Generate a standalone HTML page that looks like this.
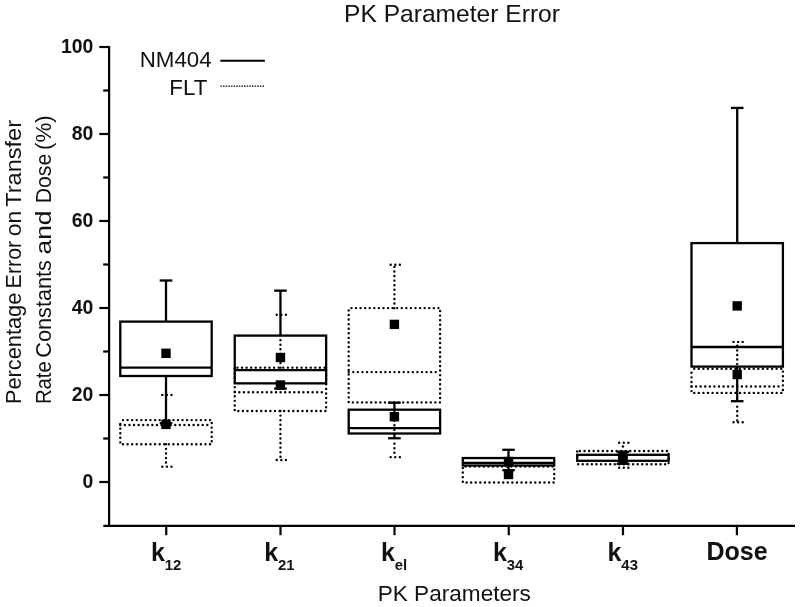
<!DOCTYPE html>
<html lang="en">
<head>
<meta charset="utf-8">
<title>PK Parameter Error</title>
<style>
html,body{margin:0;padding:0;background:#fff;}
body{width:800px;height:607px;overflow:hidden;}
svg{display:block;will-change:transform;}
text{font-family:"Liberation Sans",Arial,Helvetica,sans-serif;fill:#111;}
.b{font-weight:bold;}
.ax{stroke:#000;stroke-width:2.2;fill:none;}
.nm{stroke:#000;stroke-width:2.3;fill:none;}
.fl{stroke:#000;stroke-width:2.4;fill:none;stroke-dasharray:0.01 4.57;stroke-linecap:round;}
.mk{fill:#000;stroke:none;}
</style>
</head>
<body>
<svg width="800" height="607" viewBox="0 0 800 607">
<rect x="0" y="0" width="800" height="607" fill="#ffffff"/>

<text x="452.0" y="22.4" font-size="24.6" text-anchor="middle">PK Parameter Error</text>
<text x="454.3" y="601.2" font-size="22.6" text-anchor="middle">PK Parameters</text>
<text transform="translate(21.3 402.9) rotate(-90)" font-size="22.4"><tspan x="-1.2" textLength="111.4" lengthAdjust="spacingAndGlyphs">Percentage</tspan> <tspan x="114.5" textLength="47.6" lengthAdjust="spacingAndGlyphs">Error</tspan> <tspan x="166.6" textLength="25.6" lengthAdjust="spacingAndGlyphs">on</tspan> <tspan x="196.1" textLength="86.8" lengthAdjust="spacingAndGlyphs">Transfer</tspan></text>
<text transform="translate(50.7 402.9) rotate(-90)" font-size="22.4"><tspan x="-1.2" textLength="42.9" lengthAdjust="spacingAndGlyphs">Rate</tspan> <tspan x="45.2" textLength="97.7" lengthAdjust="spacingAndGlyphs">Constants</tspan> <tspan x="148.4" textLength="44.0" lengthAdjust="spacingAndGlyphs">and</tspan> <tspan x="199.6" textLength="49.6" lengthAdjust="spacingAndGlyphs">Dose</tspan> <tspan x="252.9" textLength="34.8" lengthAdjust="spacingAndGlyphs">(%)</tspan></text>
<line class="ax" x1="109.1" y1="46.00" x2="109.1" y2="526.9"/>
<line class="ax" x1="103.3" y1="525.8" x2="795" y2="525.8"/>
<line class="ax" x1="99.3" y1="482.00" x2="109.1" y2="482.00"/>
<text class="b" x="93.3" y="487.60" font-size="19.4" text-anchor="end">0</text>
<line class="ax" x1="103.2" y1="438.50" x2="109.1" y2="438.50"/>
<line class="ax" x1="99.3" y1="395.00" x2="109.1" y2="395.00"/>
<text class="b" x="93.3" y="400.60" font-size="19.4" text-anchor="end">20</text>
<line class="ax" x1="103.2" y1="351.50" x2="109.1" y2="351.50"/>
<line class="ax" x1="99.3" y1="308.00" x2="109.1" y2="308.00"/>
<text class="b" x="93.3" y="313.60" font-size="19.4" text-anchor="end">40</text>
<line class="ax" x1="103.2" y1="264.50" x2="109.1" y2="264.50"/>
<line class="ax" x1="99.3" y1="221.00" x2="109.1" y2="221.00"/>
<text class="b" x="93.3" y="226.60" font-size="19.4" text-anchor="end">60</text>
<line class="ax" x1="103.2" y1="177.50" x2="109.1" y2="177.50"/>
<line class="ax" x1="99.3" y1="134.00" x2="109.1" y2="134.00"/>
<text class="b" x="93.3" y="139.60" font-size="19.4" text-anchor="end">80</text>
<line class="ax" x1="103.2" y1="90.50" x2="109.1" y2="90.50"/>
<line class="ax" x1="99.3" y1="47.00" x2="109.1" y2="47.00"/>
<text class="b" x="93.3" y="52.60" font-size="19.4" text-anchor="end">100</text>
<line class="ax" x1="166.25" y1="525.8" x2="166.25" y2="535.2"/>
<text class="b" x="166.15" y="560.6" font-size="25.0" text-anchor="middle">k<tspan font-size="14.9" dy="9.6">12</tspan></text>
<line class="ax" x1="280.5" y1="525.8" x2="280.5" y2="535.2"/>
<text class="b" x="279.40" y="560.6" font-size="25.0" text-anchor="middle">k<tspan font-size="14.9" dy="9.6">21</tspan></text>
<line class="ax" x1="394.5" y1="525.8" x2="394.5" y2="535.2"/>
<text class="b" x="394.10" y="560.6" font-size="25.0" text-anchor="middle">k<tspan font-size="14.9" dy="9.6">el</tspan></text>
<line class="ax" x1="508.75" y1="525.8" x2="508.75" y2="535.2"/>
<text class="b" x="508.15" y="560.6" font-size="25.0" text-anchor="middle">k<tspan font-size="14.9" dy="9.6">34</tspan></text>
<line class="ax" x1="623.0" y1="525.8" x2="623.0" y2="535.2"/>
<text class="b" x="622.70" y="560.6" font-size="25.0" text-anchor="middle">k<tspan font-size="14.9" dy="9.6">43</tspan></text>
<line class="ax" x1="736.9" y1="525.8" x2="736.9" y2="535.2"/>
<text class="b" x="737.00" y="560.4" font-size="25.0" text-anchor="middle">Dose</text>
<text x="211.6" y="67.3" font-size="22.3" text-anchor="end">NM404</text>
<text x="207.3" y="94.5" font-size="22.3" text-anchor="end">FLT</text>
<line x1="220.3" y1="60.8" x2="264.9" y2="60.8" stroke="#000" stroke-width="2.1"/>
<line x1="220.4" y1="86.2" x2="265.1" y2="86.2" stroke="#000" stroke-width="1.3" stroke-dasharray="1.5 1.13"/>
<rect class="fl" stroke-dashoffset="-2.7" x="120.30" y="420.10" width="91.40" height="24.15"/>
<line class="fl" x1="120.30" y1="425.00" x2="211.70" y2="425.00"/>
<line class="fl" x1="162.30" y1="394.90" x2="171.60" y2="394.90"/>
<line class="fl" stroke-dashoffset="0.00" x1="166.00" y1="444.25" x2="166.00" y2="466.65"/>
<line class="fl" x1="162.30" y1="466.65" x2="171.60" y2="466.65"/>
<rect class="fl" stroke-dashoffset="-2.7" x="234.75" y="367.65" width="91.40" height="43.35"/>
<line class="fl" x1="234.75" y1="392.20" x2="326.15" y2="392.20"/>
<line class="fl" stroke-dashoffset="0.00" x1="280.45" y1="367.65" x2="280.45" y2="335.60"/>
<line class="fl" x1="276.75" y1="314.80" x2="286.05" y2="314.80"/>
<line class="fl" stroke-dashoffset="0.00" x1="280.45" y1="411.00" x2="280.45" y2="460.00"/>
<line class="fl" x1="276.75" y1="460.00" x2="286.05" y2="460.00"/>
<rect class="fl" stroke-dashoffset="-2.7" x="348.70" y="308.10" width="91.40" height="94.30"/>
<line class="fl" x1="348.70" y1="372.10" x2="440.10" y2="372.10"/>
<line class="fl" stroke-dashoffset="0.00" x1="394.40" y1="308.10" x2="394.40" y2="264.70"/>
<line class="fl" x1="390.70" y1="264.70" x2="400.00" y2="264.70"/>
<line class="fl" stroke-dashoffset="2.72" x1="394.40" y1="409.70" x2="394.40" y2="433.50"/>
<line class="fl" stroke-dashoffset="0.21" x1="394.40" y1="439.25" x2="394.40" y2="457.15"/>
<line class="fl" x1="390.70" y1="457.15" x2="400.00" y2="457.15"/>
<rect class="fl" stroke-dashoffset="-2.7" x="462.80" y="466.45" width="91.40" height="16.05"/>
<rect class="fl" stroke-dashoffset="-2.7" x="577.20" y="451.05" width="91.40" height="13.20"/>
<line class="fl" stroke-dashoffset="0.25" x1="622.90" y1="450.80" x2="622.90" y2="442.80"/>
<line class="fl" x1="619.20" y1="442.80" x2="628.50" y2="442.80"/>
<line class="fl" stroke-dashoffset="0.55" x1="622.90" y1="464.80" x2="622.90" y2="467.70"/>
<line class="fl" x1="619.20" y1="467.70" x2="628.50" y2="467.70"/>
<rect class="fl" stroke-dashoffset="-2.7" x="691.50" y="368.70" width="91.40" height="24.20"/>
<line class="fl" x1="691.50" y1="386.50" x2="782.90" y2="386.50"/>
<line class="fl" stroke-dashoffset="2.10" x1="737.20" y1="366.60" x2="737.20" y2="341.90"/>
<line class="fl" x1="733.50" y1="341.90" x2="742.80" y2="341.90"/>
<line class="fl" stroke-dashoffset="0.14" x1="737.20" y1="402.20" x2="737.20" y2="422.30"/>
<line class="fl" x1="733.50" y1="422.30" x2="742.80" y2="422.30"/>
<rect class="nm" x="120.30" y="321.60" width="91.40" height="54.40"/>
<line class="nm" x1="120.30" y1="367.65" x2="211.70" y2="367.65"/>
<line class="nm" x1="166.00" y1="321.60" x2="166.00" y2="280.50"/>
<line class="nm" x1="159.70" y1="280.50" x2="172.30" y2="280.50"/>
<line class="nm" x1="166.00" y1="376.00" x2="166.00" y2="423.10"/>
<line class="nm" x1="159.70" y1="423.10" x2="172.30" y2="423.10"/>
<rect class="nm" x="234.75" y="335.60" width="91.40" height="47.75"/>
<line class="nm" x1="234.75" y1="370.10" x2="326.15" y2="370.10"/>
<line class="nm" x1="280.45" y1="335.60" x2="280.45" y2="290.65"/>
<line class="nm" x1="274.15" y1="290.65" x2="286.75" y2="290.65"/>
<line class="nm" x1="280.45" y1="383.35" x2="280.45" y2="388.60"/>
<line class="nm" x1="274.15" y1="388.60" x2="286.75" y2="388.60"/>
<rect class="nm" x="348.70" y="409.70" width="91.40" height="23.80"/>
<line class="nm" x1="348.70" y1="428.10" x2="440.10" y2="428.10"/>
<line class="nm" x1="394.40" y1="409.70" x2="394.40" y2="402.70"/>
<line class="nm" x1="388.10" y1="402.70" x2="400.70" y2="402.70"/>
<line class="nm" x1="394.40" y1="433.50" x2="394.40" y2="438.25"/>
<line class="nm" x1="388.10" y1="438.25" x2="400.70" y2="438.25"/>
<rect class="nm" x="462.80" y="458.05" width="91.40" height="7.45"/>
<line class="nm" x1="462.80" y1="462.90" x2="554.20" y2="462.90"/>
<line class="nm" x1="508.50" y1="458.05" x2="508.50" y2="449.80"/>
<line class="nm" x1="502.20" y1="449.80" x2="514.80" y2="449.80"/>
<line class="nm" x1="508.50" y1="465.50" x2="508.50" y2="470.20"/>
<line class="nm" x1="502.20" y1="470.20" x2="514.80" y2="470.20"/>
<rect class="nm" x="577.20" y="454.80" width="91.40" height="6.00"/>
<line class="nm" x1="622.90" y1="454.80" x2="622.90" y2="451.80"/>
<line class="nm" x1="616.60" y1="451.80" x2="629.20" y2="451.80"/>
<line class="nm" x1="622.90" y1="460.80" x2="622.90" y2="463.80"/>
<line class="nm" x1="616.60" y1="463.80" x2="629.20" y2="463.80"/>
<rect class="nm" x="691.50" y="243.10" width="91.40" height="123.50"/>
<line class="nm" x1="691.50" y1="347.00" x2="782.90" y2="347.00"/>
<line class="nm" x1="737.20" y1="243.10" x2="737.20" y2="107.90"/>
<line class="nm" x1="730.90" y1="107.90" x2="743.50" y2="107.90"/>
<line class="nm" x1="737.20" y1="366.60" x2="737.20" y2="401.20"/>
<line class="nm" x1="730.90" y1="401.20" x2="743.50" y2="401.20"/>
<rect class="mk" x="161.30" y="419.70" width="9.4" height="9.4"/>
<rect class="mk" x="161.30" y="348.60" width="9.4" height="9.4"/>
<rect class="mk" x="275.75" y="380.30" width="9.4" height="9.4"/>
<rect class="mk" x="275.75" y="352.80" width="9.4" height="9.4"/>
<rect class="mk" x="389.70" y="319.70" width="9.4" height="9.4"/>
<rect class="mk" x="389.70" y="412.00" width="9.4" height="9.4"/>
<rect class="mk" x="503.80" y="469.80" width="9.4" height="9.4"/>
<rect class="mk" x="503.80" y="456.80" width="9.4" height="9.4"/>
<rect class="mk" x="618.20" y="454.30" width="9.4" height="9.4"/>
<rect class="mk" x="618.20" y="450.80" width="9.4" height="9.4"/>
<rect class="mk" x="732.50" y="369.80" width="9.4" height="9.4"/>
<rect class="mk" x="732.50" y="301.20" width="9.4" height="9.4"/>
</svg>
</body>
</html>
